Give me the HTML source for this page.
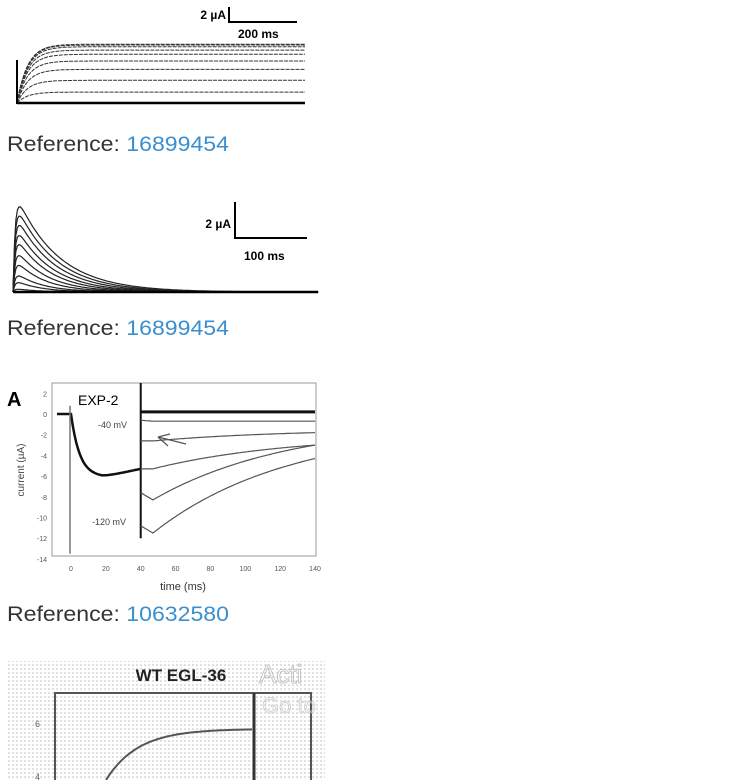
<!DOCTYPE html>
<html><head><meta charset="utf-8"><style>
html,body{margin:0;padding:0;background:#fff;width:738px;height:780px;overflow:hidden}
svg{display:block;font-family:"Liberation Sans",sans-serif}
.ref{font-size:21px;fill:#333}
.num{fill:#3b8fcf}
</style></head><body>
<svg width="738" height="780" viewBox="0 0 738 780">
<defs>
<pattern id="dots" width="4" height="4" patternUnits="userSpaceOnUse"><rect width="4" height="4" fill="#fff"/><circle cx="1" cy="1" r="0.8" fill="#bbb"/></pattern>
</defs>
<g id="p1"></g>
<g>
<path d="M229 7 V22 H297" stroke="#000" stroke-width="2" fill="none"/>
<text x="226" y="19" font-size="12" font-weight="bold" text-anchor="end">2 µA</text>
<text x="238" y="38" font-size="12" font-weight="bold">200 ms</text>
</g>
<text class="ref" x="7" y="151" textLength="222" lengthAdjust="spacingAndGlyphs">Reference: <tspan class="num">16899454</tspan></text>

<g id="p2"></g>
<g>
<path d="M235 202 V238 H307" stroke="#000" stroke-width="2" fill="none"/>
<text x="231" y="228" font-size="12" font-weight="bold" text-anchor="end">2 µA</text>
<text x="244" y="260" font-size="12" font-weight="bold">100 ms</text>
</g>
<text class="ref" x="7" y="335" textLength="222" lengthAdjust="spacingAndGlyphs">Reference: <tspan class="num">16899454</tspan></text>

<g id="p3">
<text x="7" y="406" font-size="20" font-weight="bold">A</text>
<rect x="52" y="383" width="264" height="173" fill="none" stroke="#999" stroke-width="1"/>
<text x="78" y="405" font-size="14">EXP-2</text>
<text x="98" y="428" font-size="9" fill="#444">-40 mV</text>
<text x="92" y="525" font-size="9" fill="#444">-120 mV</text>
<text transform="translate(24,470) rotate(-90)" font-size="10" fill="#444" text-anchor="middle">current (µA)</text>
<text x="183" y="590" font-size="11" fill="#333" text-anchor="middle">time (ms)</text>
<path d="M186 444 L158 437 M158 437 L170 434 M158 437 L168 446" stroke="#555" stroke-width="1.2" fill="none"/>
</g>
<text class="ref" x="7" y="621" textLength="222" lengthAdjust="spacingAndGlyphs">Reference: <tspan class="num">10632580</tspan></text>

<g>
<rect x="7" y="661" width="318" height="119" fill="url(#dots)"/>
<text x="181" y="681" font-size="17" font-weight="bold" fill="#222" text-anchor="middle">WT EGL-36</text>
<path d="M55 780 V693 H311 V780" fill="none" stroke="#555" stroke-width="2"/>
<line x1="254" y1="693" x2="254" y2="780" stroke="#333" stroke-width="3"/>
<text x="35" y="727" font-size="9" fill="#666">6</text>
<text x="35" y="780" font-size="9" fill="#666">4</text>
<path id="egl" fill="none" stroke="#555" stroke-width="2"/>
<text x="259" y="683" font-size="26" fill="none" stroke="#bbb" stroke-width="0.8">Acti</text>
<text x="262" y="713" font-size="22" fill="none" stroke="#ccc" stroke-width="0.8">Go to</text>
</g>
</svg>
<script>
const NS="http://www.w3.org/2000/svg";
// Panel 1: steady-state current levels (relative units) for each trace
const p1Levels=[0,1.3,2.7,4.0,5.0,5.8,6.3,6.7,6.9,7.0];
// Panel 2: peak amplitudes of transient currents
const p2Peaks=[0.3,1.0,1.7,2.8,3.8,4.9,5.8,6.8,7.7,8.6];
// Panel 3 EXP-2 traces (current µA): after step start value, minimum, end value at 140 ms
const p3Start=[0.2,-0.6,-2.6,-5.3,-7.6,-10.8];
const p3Min=[0.2,-0.7,-2.6,-5.3,-8.3,-11.5];
const p3End=[0.2,-0.7,-1.8,-3.0,-3.0,-4.3];
const p3YTicks=[2,0,-2,-4,-6,-8,-10,-12,-14];
const p3XTicks=[0,20,40,60,80,100,120,140];
// EGL-36 curve
const eglStart=3.6, eglEnd=6.1;

function mk(tag,attrs,parent,name){const e=document.createElementNS(NS,tag);for(const k in attrs)e.setAttribute(k,attrs[k]);parent.appendChild(e);


return e;}

// Panel 1
const g1=document.getElementById('p1');
const y1=v=>103-v*8.4, x1=t=>17+t*0.48;
p1Levels.forEach((lv,i)=>{let d='';for(let t=0;t<=600;t+=4){const v=lv*(1-Math.exp(-t/22));d+=(t?'L':'M')+x1(t).toFixed(1)+' '+y1(v).toFixed(1);}
mk('path',{d:d,fill:'none',stroke:i?'#333':'#000','stroke-width':i?1:2.5,'stroke-dasharray':i?'4 1':'none'},g1,'trace-'+i);});
mk('line',{x1:17,y1:60,x2:17,y2:104,stroke:'#000','stroke-width':2},g1,'onset-line');

// Panel 2
const g2=document.getElementById('p2');
const y2=v=>292-v*11.6, x2=t=>13+t*0.73;
p2Peaks.forEach((pk,i)=>{let d='M'+x2(0)+' '+y2(0);for(let t=0;t<=418;t+=2){const v=pk*(1-Math.exp(-t/3))*Math.exp(-Math.max(0,t-3)/(30+i*3));d+='L'+x2(t).toFixed(1)+' '+y2(v).toFixed(1);}
mk('path',{d:d,fill:'none',stroke:'#222','stroke-width':1.2},g2,'transient-'+i);});
mk('line',{x1:13,y1:292,x2:318,y2:292,stroke:'#000','stroke-width':2.5},g2,'baseline');

// Panel 3
const g3=document.getElementById('p3');
const X=t=>71+t*1.743, Y=v=>414-v*10.35;
p3YTicks.forEach(v=>{const t=mk('text',{x:47,y:Y(v)+3,'font-size':7,fill:'#555','text-anchor':'end'},g3,'y-tick-'+v);t.textContent=v;});
p3XTicks.forEach(v=>{const t=mk('text',{x:X(v),y:571,'font-size':7,fill:'#555','text-anchor':'middle'},g3,'x-tick-'+v);t.textContent=v;});
let d='M57 '+Y(0)+' L'+X(0)+' '+Y(0);
for(let t=0;t<=40;t+=1){const v=-6.1*(1-Math.exp(-t/5))+0.8*Math.max(0,(t-18)/22);d+='L'+X(t).toFixed(1)+' '+Y(v).toFixed(1);}
mk('path',{d:d,fill:'none',stroke:'#111','stroke-width':2.5},g3,'prepulse-trace');
mk('line',{x1:X(0)-1,y1:Y(0.8),x2:X(0)-1,y2:Y(-13.5),stroke:'#777','stroke-width':1.5},g3,'capacitive-spike');
mk('line',{x1:X(40),y1:383,x2:X(40),y2:Y(-12),stroke:'#111','stroke-width':2},g3,'step-line');
p3Start.forEach((s,i)=>{const mn=p3Min[i],en=p3End[i];let d2='';
for(let t=40;t<=140;t+=1){let v;if(t<=47){v=s+(mn-s)*(t-40)/7;}else{const f=(t-47)/93;v=mn+(en-mn)*(1-Math.exp(-f*1.2))/(1-Math.exp(-1.2));}
d2+=(t>40?'L':'M')+X(t).toFixed(1)+' '+Y(v).toFixed(1);}
mk('path',{d:d2,fill:'none',stroke:i?'#555':'#111','stroke-width':i?1.2:3},g3,'tail-trace-'+i);});

// EGL-36
const egl=document.getElementById('egl');
const ex=t=>106+t*1.46, ey=v=>780-(v-eglStart)*(45/2.2);
let de='';for(let t=0;t<=100;t+=2){const v=eglStart+(eglEnd-eglStart)*(1-Math.exp(-t/22));de+=(t?'L':'M')+ex(t).toFixed(1)+' '+ey(v).toFixed(1);}
egl.setAttribute('d',de);


</script>
</body></html>
